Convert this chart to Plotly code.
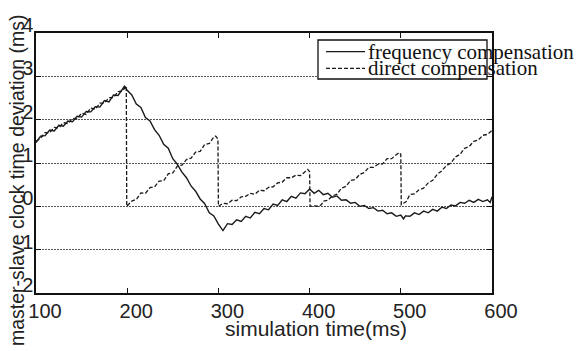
import plotly.graph_objects as go

# ---------------- data ----------------
series_names = ["frequency compensation", "direct compensation"]

freq_t = [100, 105, 110, 115, 120, 125, 130, 135, 140, 145, 150, 155, 160, 165, 170,
          175, 180, 185, 190, 195, 197, 200, 205, 210, 215, 220, 225, 230, 235, 240,
          245, 250, 255, 260, 265, 270, 275, 280, 285, 290, 295, 300, 303, 305, 310,
          315, 320, 325, 330, 335, 340, 345, 350, 355, 360, 365, 370, 375, 380, 385,
          390, 395, 400, 405, 410, 415, 420, 425, 430, 435, 440, 445, 450, 455, 460,
          465, 470, 475, 480, 485, 490, 495, 500, 503, 505, 510, 515, 520, 525, 530,
          535, 540, 545, 550, 555, 560, 565, 570, 575, 580, 585, 590, 595, 598, 600]
freq_v = [1.47, 1.62, 1.63, 1.76, 1.74, 1.87, 1.85, 1.97, 1.95, 2.08, 2.06, 2.19, 2.18, 2.30, 2.29,
          2.44, 2.41, 2.57, 2.56, 2.72, 2.77, 2.68, 2.57, 2.36, 2.28, 2.05, 1.97, 1.77, 1.64, 1.43,
          1.34, 1.10, 0.97, 0.79, 0.66, 0.47, 0.35, 0.17, 0.06, -0.15, -0.22, -0.41, -0.50, -0.56, -0.40,
          -0.42, -0.31, -0.35, -0.23, -0.27, -0.14, -0.17, -0.05, -0.08, 0.05, 0.02, 0.15, 0.11, 0.23, 0.19,
          0.31, 0.29, 0.40, 0.30, 0.37, 0.27, 0.30, 0.21, 0.24, 0.14, 0.15, 0.07, 0.09, 0.00, 0.02,
          -0.05, -0.03, -0.11, -0.09, -0.17, -0.15, -0.23, -0.20, -0.29, -0.22, -0.23, -0.15, -0.19, -0.11, -0.15,
          -0.07, -0.11, -0.02, -0.05, 0.03, 0.01, 0.09, 0.07, 0.14, 0.09, 0.16, 0.11, 0.15, 0.09, 0.22]

direct_t = [100, 105, 110, 115, 120, 125, 130, 135, 140, 145, 150, 155, 160, 165, 170,
            175, 180, 185, 190, 195, 199, 199.5, 205, 210, 215, 220, 225, 230, 235, 240,
            245, 250, 255, 260, 265, 270, 275, 280, 285, 290, 295, 297, 299.5, 300, 305,
            310, 315, 320, 325, 330, 335, 340, 345, 350, 355, 360, 365, 370, 375, 380,
            385, 390, 395, 398, 400, 400.5, 405, 410, 413, 415, 420, 425, 430, 435, 440,
            445, 450, 455, 460, 465, 470, 475, 480, 485, 490, 495, 498, 500, 500.5, 503,
            506, 510, 515, 520, 525, 530, 535, 540, 545, 550, 555, 560, 565, 570, 575,
            580, 585, 590, 595, 600]
direct_v = [1.50, 1.57, 1.70, 1.70, 1.82, 1.81, 1.93, 1.91, 2.03, 2.02, 2.15, 2.12, 2.27, 2.24, 2.38,
            2.38, 2.51, 2.51, 2.65, 2.66, 2.78, 0.00, 0.12, 0.16, 0.31, 0.30, 0.43, 0.45, 0.58, 0.59,
            0.75, 0.77, 0.93, 0.95, 1.08, 1.11, 1.25, 1.27, 1.43, 1.45, 1.60, 1.62, 1.55, 0.00, 0.07,
            0.06, 0.14, 0.13, 0.22, 0.23, 0.30, 0.28, 0.37, 0.36, 0.44, 0.45, 0.54, 0.56, 0.66, 0.66,
            0.72, 0.71, 0.80, 0.85, 0.80, 0.00, 0.01, 0.00, 0.04, 0.12, 0.14, 0.24, 0.28, 0.42, 0.46,
            0.60, 0.62, 0.74, 0.78, 0.90, 0.90, 0.97, 0.98, 1.10, 1.10, 1.20, 1.24, 1.20, 0.04, 0.07,
            0.11, 0.27, 0.29, 0.38, 0.42, 0.54, 0.60, 0.74, 0.82, 0.94, 1.00, 1.14, 1.20, 1.34, 1.38,
            1.50, 1.53, 1.64, 1.66, 1.75]

x_tick_vals = [100, 200, 300, 400, 500, 600]
x_tick_text = ["100", "200", "300", "400", "500", "600"]
y_tick_vals = [-2, -1, 0, 1, 2, 3, 4]
y_tick_text = ["2", "1", "0", "1", "2", "3", "4"]

x_title = "simulation time(ms)"
y_title = "master-slave clock time deviation (ms)"

# ---------------- figure ----------------
W, H = 580, 351
L, R, T, B = 36, 88, 33, 58
PW, PH = W - L - R, H - T - B

def px_x(p):
    return (p - L) / PW

def px_y(p):
    return (H - B - p) / PH

line_col = "#1a1a1a"
sans = "Liberation Sans, Arial, sans-serif"
serif = "Liberation Serif, Times New Roman, serif"

fig = go.Figure()
fig.add_trace(go.Scatter(x=freq_t, y=freq_v, mode="lines", name=series_names[0],
                         line=dict(color=line_col, width=1.4)))
fig.add_trace(go.Scatter(x=direct_t, y=direct_v, mode="lines", name=series_names[1],
                         line=dict(color=line_col, width=1.3, dash="4px,2px")))

fig.update_layout(
    width=W, height=H,
    margin=dict(l=L, r=R, t=T, b=B, autoexpand=False),
    paper_bgcolor="white", plot_bgcolor="white",
    showlegend=False,
    font=dict(family=sans, size=20, color="#222"),
)
fig.update_xaxes(
    range=[100, 600], tickvals=x_tick_vals, ticktext=x_tick_text,
    showgrid=False, zeroline=False,
    showline=True, linecolor="#111", linewidth=1.5, mirror="ticks",
    ticks="inside", ticklen=5, tickcolor="#111", tickwidth=1.2,
    tickfont=dict(family=sans, size=20, color="#222"),
    ticklabelshift=9, ticklabelstandoff=-1,
)
fig.update_yaxes(
    range=[-2, 4], tickvals=y_tick_vals, ticktext=y_tick_text,
    showgrid=True, gridcolor="#555", gridwidth=1, griddash="2px,1px",
    zeroline=False,
    showline=True, linecolor="#111", linewidth=1.5, mirror="ticks",
    ticks="inside", ticklen=5, tickcolor="#111", tickwidth=1.2,
    tickfont=dict(family=sans, size=20, color="#222"),
    ticklabelshift=-8, ticklabelstandoff=-3,
)

# axis titles
fig.add_annotation(text=x_title, xref="paper", yref="paper",
                   x=px_x(316), y=px_y(328), xanchor="center", yanchor="middle",
                   showarrow=False, font=dict(family=sans, size=21, color="#222"))
fig.add_annotation(text=y_title, xref="paper", yref="paper",
                   x=px_x(17), y=px_y(180), xanchor="center", yanchor="middle",
                   textangle=-90, showarrow=False,
                   font=dict(family=sans, size=19.5, color="#222"))

# legend box (drawn by hand to match the original overflowing legend)
fig.add_shape(type="rect", xref="paper", yref="paper",
              x0=px_x(318), x1=px_x(487), y0=px_y(79), y1=px_y(40),
              line=dict(color="#111", width=1.3), fillcolor="white", layer="above")
leg_rows = [51.7, 68.3]
leg_dash = ["solid", "4px,2px"]
for name, yy, dsh in zip(series_names, leg_rows, leg_dash):
    fig.add_shape(type="line", xref="paper", yref="paper",
                  x0=px_x(326), x1=px_x(365), y0=px_y(yy), y1=px_y(yy),
                  line=dict(color=line_col, width=1.3, dash=dsh), layer="above")
    fig.add_annotation(text=name, xref="paper", yref="paper",
                       x=px_x(366), y=px_y(yy), xanchor="left", yanchor="middle",
                       showarrow=False, font=dict(family=serif, size=21, color="#111"))

fig.write_html("out.html", config={"displayModeBar": False},
               post_script="document.body.style.margin='0';document.body.style.overflow='hidden';")
